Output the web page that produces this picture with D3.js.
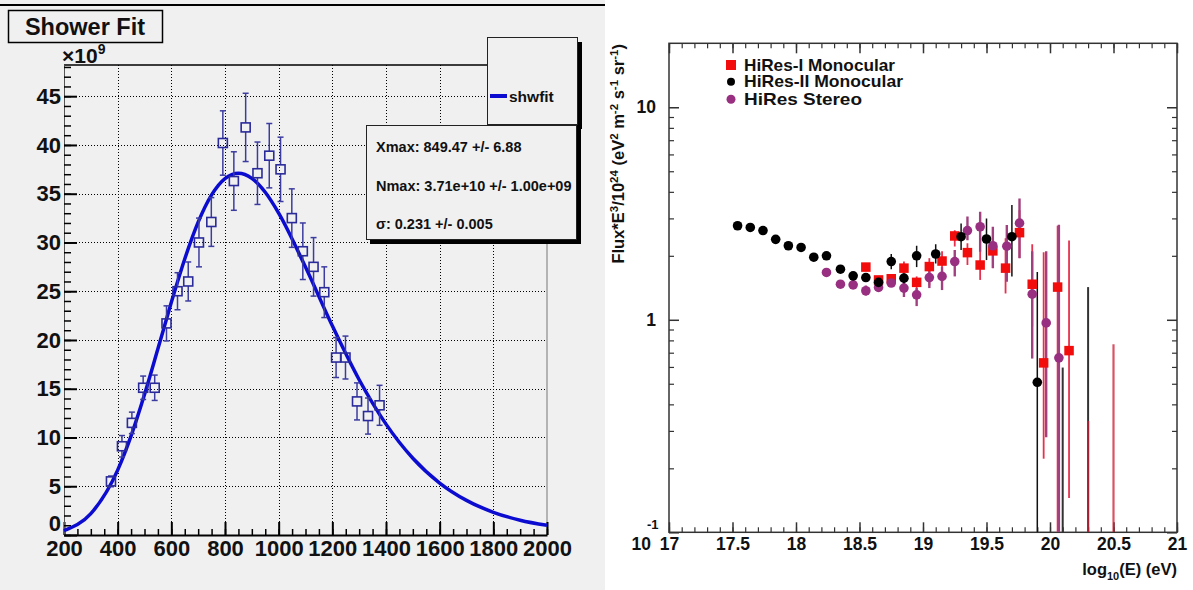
<!DOCTYPE html>
<html><head><meta charset="utf-8">
<script src="https://cdn.jsdelivr.net/npm/d3@7"></script>
<style>
body{margin:0;background:#fff;}
svg{display:block;font-family:"Liberation Sans",Arial,Helvetica,sans-serif;font-weight:bold;}
</style></head><body>
<svg id="c" width="1193" height="590"></svg>
<script>
// ---------- Left panel: shower profile ----------
const depth   = [375,416,453,495,538,582,623,663,703,749,792,833,877,921,965,1007,1049,1090,1130,1170,1214,1249,1292,1333,1376];
const sizeE9  = [5.5,9.1,11.5,15.1,15.1,21.7,25.0,26.0,30.0,32.1,40.2,36.3,41.8,37.1,38.9,37.5,32.5,29.1,27.5,24.9,18.2,18.2,13.7,12.2,13.3];
const sizeErr = [0.55,1.1,1.1,1.2,1.3,1.8,1.9,2.0,2.5,2.5,3.3,3.0,3.5,3.2,3.3,3.3,3.0,2.9,3.0,2.6,2.05,2.2,1.9,1.85,2.05];
const fitDepth = [200,300,400,450,500,550,600,650,700,750,800,850,900,950,1000,1100,1200,1300,1400,1500,1600,1700,1800,1900,2000];
const fitSize  = [0.46,2.19,6.65,10.16,14.40,19.09,23.86,28.31,32.08,34.88,36.56,37.10,36.58,35.15,33.02,27.48,21.45,15.92,11.37,7.87,5.33,3.55,2.33,1.52,0.99];
const leftXTicks = [200,400,600,800,1000,1200,1400,1600,1800,2000];
const leftYTicks = [0,5,10,15,20,25,30,35,40,45];
const leftTitle = "Shower Fit";
const leftLegend = "shwfit";
const statsLines = ["Xmax: 849.47 +/- 6.88","Nmax: 3.71e+10 +/- 1.00e+09","\u03c3: 0.231 +/- 0.005"];

// ---------- Right panel: HiRes spectrum ----------
const hires1E  = [18.55,18.65,18.75,18.85,18.95,19.05,19.15,19.25,19.35,19.45,19.55,19.65,19.76,19.86,19.95,20.06,20.15];
const hires1F  = [1.77,1.54,1.56,1.75,1.50,1.78,1.89,2.48,2.07,1.81,2.11,1.75,2.57,1.47,0.627,1.425,0.716];
const hires1Lo = [1.70,1.48,1.50,1.60,1.38,1.45,1.65,2.21,1.81,1.54,1.75,1.33,1.95,0.93,0.222,0.1,0.145];
const hires1Hi = [1.85,1.60,1.62,1.88,1.60,1.95,2.10,2.64,2.29,2.13,2.50,2.42,3.28,2.27,2.08,2.77,2.36];
const hires1OffE   = [20.30,20.50];
const hires1OffTop = [0.334,0.767];

const hires2E  = [17.54,17.64,17.74,17.84,17.94,18.04,18.14,18.24,18.35,18.45,18.55,18.65,18.75,18.85,18.95,19.10,19.30,19.50,19.70,19.90];
const hires2F  = [2.77,2.72,2.63,2.39,2.23,2.19,1.97,2.00,1.73,1.61,1.58,1.50,1.88,1.57,2.00,2.04,2.46,2.40,2.46,0.508];
const hires2Lo = [2.72,2.67,2.58,2.34,2.18,2.14,1.92,1.95,1.68,1.56,1.53,1.45,1.73,1.47,1.77,1.84,2.13,1.91,1.60,0.1];
const hires2Hi = [2.82,2.77,2.68,2.44,2.28,2.24,2.02,2.05,1.78,1.66,1.63,1.56,2.04,1.65,2.23,2.27,2.84,3.00,3.47,1.68];
const hires2OffE   = [20.10,20.30];
const hires2OffTop = [0.596,1.425];

const stereoE  = [18.24,18.35,18.45,18.55,18.65,18.75,18.85,18.95,19.05,19.15,19.25,19.35,19.45,19.55,19.66,19.76,19.86,19.97,20.07];
const stereoF  = [1.67,1.47,1.46,1.37,1.42,1.49,1.41,1.31,1.58,1.60,1.88,2.63,2.74,2.23,2.22,2.85,1.32,0.967,0.662];
const stereoLo = [1.62,1.42,1.41,1.30,1.36,1.43,1.28,1.16,1.41,1.38,1.60,2.37,2.09,1.75,1.51,1.95,0.657,0.28,0.1];
const stereoHi = [1.72,1.52,1.51,1.45,1.48,1.55,1.51,1.41,1.77,1.77,2.13,3.06,3.22,2.74,2.79,3.72,2.10,2.10,2.80];

const rightXTicks = [17,17.5,18,18.5,19,19.5,20,20.5,21];
const rightYTicks = [0.1,1,10];
const legendNames = ["HiRes-I Monocular","HiRes-II Monocular","HiRes Stereo"];

const svg = d3.select("#c");
const FONT = "Liberation Sans, Arial, sans-serif";

// ================= LEFT PANEL =================
svg.append("rect").attr("x",0).attr("y",0).attr("width",605).attr("height",590).attr("fill","#f0f0f0");
svg.append("line").attr("x1",0).attr("x2",605).attr("y1",5).attr("y2",5).attr("stroke","#000").attr("stroke-width",2);

const xL = d3.scaleLinear().domain([200,2000]).range([64,547]);
const yL = d3.scaleLinear().domain([0,48.2]).range([535,65]);
const r5 = v => Math.round(v)+0.5;

const gL = svg.append("g");
// grid
gL.selectAll(".gx").data(leftXTicks.slice(1,-1)).join("line")
  .attr("x1",d=>r5(xL(d))).attr("x2",d=>r5(xL(d))).attr("y1",yL.range()[1]).attr("y2",yL.range()[0])
  .attr("stroke","#000").attr("stroke-width",1).attr("stroke-dasharray","1,2").attr("shape-rendering","crispEdges");
gL.selectAll(".gy").data(leftYTicks.slice(1)).join("line")
  .attr("x1",xL.range()[0]).attr("x2",xL.range()[1]).attr("y1",d=>r5(yL(d))).attr("y2",d=>r5(yL(d)))
  .attr("stroke","#000").attr("stroke-width",1).attr("stroke-dasharray","1,2").attr("shape-rendering","crispEdges");
// frame
gL.append("line").attr("x1",xL(2000)).attr("x2",xL(2000)).attr("y1",65).attr("y2",535).attr("stroke","#777").attr("stroke-width",1);
gL.append("line").attr("x1",xL(200)).attr("x2",xL(2000)).attr("y1",65).attr("y2",65).attr("stroke","#000").attr("stroke-width",1.5);

// axes
const xMinorL = d3.range(200,2001,50);
gL.append("g").attr("transform","translate(0,535)")
  .call(d3.axisBottom(xL).tickValues(xMinorL).tickSize(-6).tickSizeOuter(0).tickFormat(""))
  .call(g=>g.select(".domain").attr("stroke","#000").attr("stroke-width",2))
  .call(g=>g.selectAll(".tick line").attr("stroke","#000").attr("stroke-width",1.5));
gL.append("g").attr("transform","translate(0,535)")
  .call(d3.axisBottom(xL).tickValues(leftXTicks).tickSize(-13).tickSizeOuter(0).tickPadding(5).tickFormat(d3.format("d")))
  .call(g=>g.select(".domain").remove())
  .call(g=>g.selectAll(".tick line").attr("stroke","#000").attr("stroke-width",2))
  .call(g=>g.selectAll("text").attr("font-size",22).attr("font-weight","bold").attr("fill","#111").attr("font-family",FONT));
const yMinorL = d3.range(0,48.1,1);
gL.append("g").attr("transform","translate(64,0)")
  .call(d3.axisLeft(yL).tickValues(yMinorL).tickSize(-7).tickSizeOuter(0).tickFormat(""))
  .call(g=>g.select(".domain").attr("stroke","#555").attr("stroke-width",1))
  .call(g=>g.selectAll(".tick line").attr("stroke","#000").attr("stroke-width",1.5));
gL.append("g").attr("transform","translate(64,0)")
  .call(d3.axisLeft(yL).tickValues(leftYTicks).tickSize(-13).tickSizeOuter(0).tickPadding(3).tickFormat(d3.format("d")))
  .call(g=>g.select(".domain").remove())
  .call(g=>g.selectAll(".tick line").attr("stroke","#000").attr("stroke-width",2))
  .call(g=>g.selectAll("text").attr("font-size",22).attr("font-weight","bold").attr("fill","#111").attr("font-family",FONT))
  .call(g=>g.selectAll(".tick").filter(d=>d===0).select("text").attr("y",-12));

// x10^9
const mult = gL.append("text").attr("x",62).attr("y",63).attr("font-size",21).attr("fill","#111");
mult.append("tspan").text("\u00d710");
mult.append("tspan").attr("dy",-9).attr("font-size",14).text("9");

// fit curve
const fitPts = fitDepth.map((d,i)=>[d,fitSize[i]]);
gL.append("path").datum(fitPts)
  .attr("d", d3.line().x(d=>xL(d[0])).y(d=>yL(d[1])).curve(d3.curveMonotoneX))
  .attr("fill","none").attr("stroke","#0c0cd0").attr("stroke-width",3.5);

// data points with error bars
const pts = depth.map((d,i)=>({x:d,y:sizeE9[i],e:sizeErr[i]}));
const ms = 4.5, ec = "#3c3ca0";
const pg = gL.append("g");
pts.forEach(p=>{
  const cx = xL(p.x), cy = yL(p.y), top = yL(p.y+p.e), bot = yL(p.y-p.e);
  if (top < cy-ms) pg.append("line").attr("x1",cx).attr("x2",cx).attr("y1",top).attr("y2",cy-ms).attr("stroke",ec).attr("stroke-width",1.5);
  if (bot > cy+ms) pg.append("line").attr("x1",cx).attr("x2",cx).attr("y1",cy+ms).attr("y2",bot).attr("stroke",ec).attr("stroke-width",1.5);
  pg.append("line").attr("x1",cx-3).attr("x2",cx+3).attr("y1",top).attr("y2",top).attr("stroke",ec).attr("stroke-width",1.5);
  pg.append("line").attr("x1",cx-3).attr("x2",cx+3).attr("y1",bot).attr("y2",bot).attr("stroke",ec).attr("stroke-width",1.5);
  pg.append("rect").attr("x",cx-ms).attr("y",cy-ms).attr("width",2*ms).attr("height",2*ms)
    .attr("fill","none").attr("stroke","#2a2a9a").attr("stroke-width",1.6);
});

// title box
svg.append("rect").attr("x",8.5).attr("y",10.5).attr("width",154).attr("height",32).attr("fill","#f0f0f0").attr("stroke","#000").attr("stroke-width",1.5);
svg.append("text").attr("x",85).attr("y",27).attr("text-anchor","middle").attr("dominant-baseline","central")
  .attr("font-size",23.5).attr("fill","#111").text(leftTitle);

// legend box
svg.append("rect").attr("x",491).attr("y",42).attr("width",91).attr("height",87).attr("fill","#000");
svg.append("rect").attr("x",487.5).attr("y",37.5).attr("width",90).attr("height",87).attr("fill","#f0f0f0").attr("stroke","#222").attr("stroke-width",1);
svg.append("line").attr("x1",490).attr("x2",507).attr("y1",96).attr("y2",96).attr("stroke","#0c0cd0").attr("stroke-width",4);
svg.append("text").attr("x",509).attr("y",96).attr("dominant-baseline","central").attr("font-size",15.5).attr("fill","#111").text(leftLegend);

// stats box
svg.append("rect").attr("x",370).attr("y",129).attr("width",211).attr("height",115).attr("fill","#000");
svg.append("rect").attr("x",366.5).attr("y",125.5).attr("width",210).attr("height",114).attr("fill","#f0f0f0").attr("stroke","#222").attr("stroke-width",1);
svg.selectAll(".st").data(statsLines).join("text")
  .attr("x",376).attr("y",(d,i)=>147+i*38.5).attr("dominant-baseline","central")
  .attr("font-size",14.5).attr("fill","#111").text(d=>d);

// ================= RIGHT PANEL =================
const xR = d3.scaleLinear().domain([17,21]).range([669,1177]);
const yR = d3.scaleLog().domain([0.1,20]).range([532.3,43.3]);
const gR = svg.append("g");
svg.append("defs").append("clipPath").attr("id","clipR").append("rect")
  .attr("x",669).attr("y",43.3).attr("width",508).attr("height",489);

gR.append("rect").attr("x",669).attr("y",43.3).attr("width",508).attr("height",489)
  .attr("fill","none").attr("stroke","#333").attr("stroke-width",1.5);

const xMinorR = d3.range(170,211,1).map(d=>d/10);
const yMinorR = [0.2,0.3,0.4,0.5,0.6,0.7,0.8,0.9,2,3,4,5,6,7,8,9];
function styleAx(g,w){ g.select(".domain").remove(); g.selectAll(".tick line").attr("stroke","#333").attr("stroke-width",w); }
gR.append("g").attr("transform","translate(0,532.3)").call(d3.axisBottom(xR).tickValues(xMinorR).tickSize(-5).tickFormat("")).call(g=>styleAx(g,1.2));
gR.append("g").attr("transform","translate(0,43.3)").call(d3.axisTop(xR).tickValues(xMinorR).tickSize(-5).tickFormat("")).call(g=>styleAx(g,1.2));
gR.append("g").attr("transform","translate(0,43.3)").call(d3.axisTop(xR).tickValues(rightXTicks).tickSize(-10).tickFormat("")).call(g=>styleAx(g,1.5));
gR.append("g").attr("transform","translate(0,532.3)")
  .call(d3.axisBottom(xR).tickValues(rightXTicks).tickSize(-10).tickPadding(5).tickFormat(d=>String(d)))
  .call(g=>styleAx(g,1.5))
  .call(g=>g.selectAll("text").attr("font-size",17.5).attr("font-weight","bold").attr("fill","#111").attr("font-family",FONT));
gR.append("g").attr("transform","translate(669,0)").call(d3.axisLeft(yR).tickValues(yMinorR).tickSize(-5).tickFormat("")).call(g=>styleAx(g,1.2));
gR.append("g").attr("transform","translate(1177,0)").call(d3.axisRight(yR).tickValues(yMinorR).tickSize(-5).tickFormat("")).call(g=>styleAx(g,1.2));
gR.append("g").attr("transform","translate(1177,0)").call(d3.axisRight(yR).tickValues(rightYTicks).tickSize(-10).tickFormat("")).call(g=>styleAx(g,1.5));
gR.append("g").attr("transform","translate(669,0)")
  .call(d3.axisLeft(yR).tickValues(rightYTicks).tickSize(-10).tickPadding(13).tickFormat(d=> d>=1 ? String(d) : ""))
  .call(g=>styleAx(g,1.5))
  .call(g=>g.selectAll("text").attr("font-size",17.5).attr("font-weight","bold").attr("fill","#111").attr("font-family",FONT));
// 10^-1 label
gR.append("text").attr("x",651).attr("y",yR(0.1)+18).attr("text-anchor","end").attr("font-size",17.5).attr("fill","#111").text("10");
gR.append("text").attr("x",647).attr("y",yR(0.1)-3).attr("font-size",13).attr("fill","#111").text("-1");

// axis titles
const xt = gR.append("text").attr("x",1177).attr("y",575).attr("text-anchor","end").attr("font-size",16.5).attr("fill","#111");
xt.append("tspan").text("log");
xt.append("tspan").attr("dy",5).attr("font-size",11).text("10");
xt.append("tspan").attr("dy",-5).text("(E) (eV)");

const yt = gR.append("text").attr("transform","translate(624,44) rotate(-90)").attr("text-anchor","end").attr("font-size",16.5).attr("fill","#111");
[["Flux*E",0],["3",1],["/10",0],["24",1],[" (eV",0],["2",1],[" m",0],["-2",1],[" s",0],["-1",1],[" sr",0],["-1",1],[")",0]]
  .forEach(([t,s],i,arr)=>{
    const prev = i>0 ? arr[i-1][1] : 0;
    const dy = (s-prev)*-6;
    const sp = yt.append("tspan").text(t).attr("font-size", s ? 11.5 : 16.5);
    if (dy) sp.attr("dy",dy);
  });

// data
const plot = gR.append("g").attr("clip-path","url(#clipR)");
function errBars(E,Lo,Hi,color,w){
  plot.append("g").selectAll("line").data(E.map((e,i)=>({e,lo:Lo[i],hi:Hi[i]}))).join("line")
    .attr("x1",d=>xR(d.e)).attr("x2",d=>xR(d.e)).attr("y1",d=>yR(d.hi)).attr("y2",d=>yR(Math.max(d.lo,0.1)))
    .attr("stroke",color).attr("stroke-width",w);
}
function offBars(E,Top,color,w,op){
  plot.append("g").selectAll("line").data(E.map((e,i)=>({e,t:Top[i]}))).join("line")
    .attr("x1",d=>xR(d.e)).attr("x2",d=>xR(d.e)).attr("y1",d=>yR(d.t)).attr("y2",yR(0.1))
    .attr("stroke",color).attr("stroke-width",w).attr("stroke-opacity",op);
}
const cRed="#f20c0c", cRedErr="#e8304e", cPur="#992f80", cPurErr="#a0407f", cBlk="#000";
offBars(hires2OffE,hires2OffTop,"#333",2,1);
offBars(hires1OffE,hires1OffTop,"#cc1a30",2.2,0.75);
errBars(hires1E,hires1Lo,hires1Hi,cRedErr,1.8);
errBars(stereoE,stereoLo,stereoHi,cPurErr,2.4);
errBars(hires2E,hires2Lo,hires2Hi,"#111",1.5);
const sq = 9.5;
plot.append("g").selectAll("rect").data(hires1E.map((e,i)=>({e,f:hires1F[i]}))).join("rect")
  .attr("x",d=>xR(d.e)-sq/2).attr("y",d=>yR(d.f)-sq/2).attr("width",sq).attr("height",sq).attr("fill",cRed);
plot.append("g").selectAll("circle").data(stereoE.map((e,i)=>({e,f:stereoF[i]}))).join("circle")
  .attr("cx",d=>xR(d.e)).attr("cy",d=>yR(d.f)).attr("r",4.8).attr("fill",cPur);
plot.append("g").selectAll("circle").data(hires2E.map((e,i)=>({e,f:hires2F[i]}))).join("circle")
  .attr("cx",d=>xR(d.e)).attr("cy",d=>yR(d.f)).attr("r",4.8).attr("fill",cBlk);

// legend
const lg = gR.append("g");
const ly = [65,81.7,99.3];
const lw = [151,159,118];
lg.append("rect").attr("x",731-5).attr("y",ly[0]-5).attr("width",10).attr("height",10).attr("fill",cRed);
lg.append("circle").attr("cx",731).attr("cy",ly[1]).attr("r",4).attr("fill",cBlk);
lg.append("circle").attr("cx",731).attr("cy",ly[2]).attr("r",4.5).attr("fill",cPur);
lg.selectAll("text").data(legendNames).join("text")
  .attr("x",744).attr("y",(d,i)=>ly[i]).attr("dominant-baseline","central")
  .attr("font-size",17).attr("textLength",(d,i)=>lw[i]).attr("lengthAdjust","spacingAndGlyphs")
  .attr("fill","#111").text(d=>d);
</script>
</body></html>
